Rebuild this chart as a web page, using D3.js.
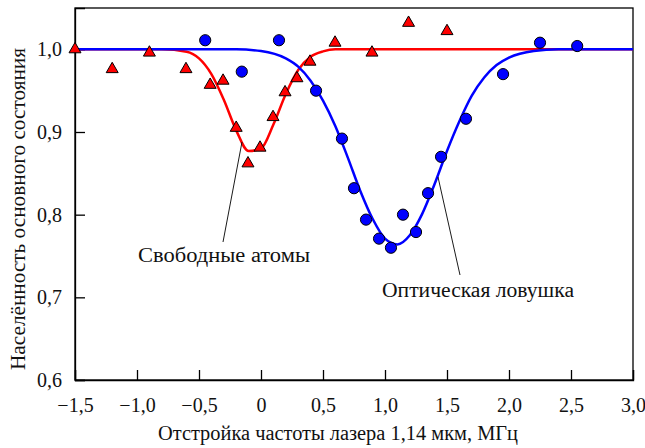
<!DOCTYPE html>
<html><head><meta charset="utf-8">
<script src="https://cdn.jsdelivr.net/npm/d3@7"></script>
<style>body{margin:0;background:#fff}svg{display:block}</style>
</head><body><svg id="c" width="645" height="448"></svg>
<script>
// Data
const freeX = [-1.5,-1.2,-0.9,-0.605,-0.41,-0.306,-0.20,-0.105,-0.008,0.097,0.194,0.29,0.395,0.597,0.895,1.19,1.5];
const freeY = [1.0,0.976,0.996,0.976,0.957,0.962,0.905,0.862,0.881,0.918,0.948,0.965,0.985,1.008,0.996,1.032,1.022];
const trapX = [-0.45,-0.155,0.145,0.444,0.653,0.75,0.847,0.952,1.048,1.145,1.25,1.347,1.452,1.653,1.952,2.25,2.55];
const trapY = [1.011,0.973,1.011,0.950,0.892,0.832,0.794,0.771,0.760,0.800,0.779,0.826,0.870,0.916,0.970,1.008,1.004];
// Fitted curves
const freeFitX = [-1.5,-0.8,-0.6,-0.5,-0.4,-0.3,-0.2,-0.1,0.0,0.1,0.2,0.3,0.4,0.5,0.6,3.0];
const freeFitY = [1.0,1.0,0.997,0.989,0.970,0.939,0.902,0.877,0.880,0.909,0.946,0.975,0.991,0.9975,1.0,1.0];
const trapFitX = [-1.5,-0.2,0.0,0.2,0.3,0.4,0.5,0.6,0.7,0.8,0.9,1.0,1.1,1.2,1.3,1.4,1.5,1.6,1.7,1.8,1.9,2.0,2.2,2.4,3.0];
const trapFitY = [1.0,1.0,0.998,0.989,0.979,0.962,0.938,0.907,0.869,0.829,0.795,0.771,0.764,0.775,0.801,0.837,0.877,0.913,0.944,0.966,0.981,0.990,0.998,1.0,1.0];
const xTicks = [-1.5,-1.0,-0.5,0,0.5,1.0,1.5,2.0,2.5,3.0];
const yTicks = [0.6,0.7,0.8,0.9,1.0];
const xTitle = "Отстройка частоты лазера 1,14 мкм, МГц";
const yTitle = "Населённость основного состояния";
const labelFree = "Свободные атомы";
const labelTrap = "Оптическая ловушка";

const FONT = "'Liberation Serif','DejaVu Serif','Times New Roman',serif";
const svg = d3.select("#c");
const L=75,R=633,T=8,B=380;
const x = d3.scaleLinear().domain([-1.5,3.0]).range([L,R]);
const y = d3.scaleLinear().domain([0.6,1.05]).range([B,T]);
const fmt = v => {
  if (v===0) return "0";
  const s = Math.abs(v).toFixed(1).replace(".",",");
  return (v<0?"\u2212":"")+s;
};

// frame
svg.append("rect").attr("x",L).attr("y",T).attr("width",R-L).attr("height",B-T)
  .attr("fill","none").attr("stroke","#000").attr("stroke-width",1.3);

// axes (ticks inward)
const xa = svg.append("g").attr("transform",`translate(0,${B})`)
  .call(d3.axisBottom(x).tickValues(xTicks).tickSize(-10).tickPadding(18).tickFormat(fmt));
const ya = svg.append("g").attr("transform",`translate(${L},0)`)
  .call(d3.axisLeft(y).tickValues(yTicks).tickSize(-10).tickPadding(13).tickFormat(fmt));
[xa,ya].forEach(g=>{
  g.attr("font-family",FONT).attr("font-size",20);
  g.select(".domain").attr("stroke","#000").attr("stroke-width",1.3);
  g.selectAll(".tick line").attr("stroke","#000").attr("stroke-width",1.3);
  g.selectAll(".tick text").attr("fill","#111");
});

// curves
const line = d3.line().x(d=>x(d[0])).y(d=>y(d[1])).curve(d3.curveMonotoneX);
svg.append("path").datum(d3.zip(freeFitX,freeFitY)).attr("d",line)
  .attr("fill","none").attr("stroke","#ff0000").attr("stroke-width",2.5);
svg.append("path").datum(d3.zip(trapFitX,trapFitY)).attr("d",line)
  .attr("fill","none").attr("stroke","#0000ff").attr("stroke-width",2.5);

// markers
svg.append("g").selectAll("path").data(d3.zip(freeX,freeY)).join("path")
  .attr("d",d3.symbol(d3.symbolTriangle,62))
  .attr("transform",d=>`translate(${x(d[0])},${y(d[1])})`)
  .attr("fill","#ff0000").attr("stroke","#000").attr("stroke-width",1);
svg.append("g").selectAll("circle").data(d3.zip(trapX,trapY)).join("circle")
  .attr("cx",d=>x(d[0])).attr("cy",d=>y(d[1])).attr("r",5.6)
  .attr("fill","#0000ff").attr("stroke","#000").attr("stroke-width",1);

// annotations
svg.append("line").attr("x1",242).attr("y1",142).attr("x2",223).attr("y2",242)
  .attr("stroke","#000").attr("stroke-width",0.9);
svg.append("line").attr("x1",438).attr("y1",177).attr("x2",460).attr("y2",275)
  .attr("stroke","#000").attr("stroke-width",0.9);
const t = svg.append("g").attr("font-family",FONT).attr("font-size",20).attr("fill","#111");
t.append("text").attr("x",138).attr("y",262).attr("textLength",172).attr("lengthAdjust","spacingAndGlyphs").text(labelFree);
t.append("text").attr("x",382).attr("y",297).attr("textLength",192).attr("lengthAdjust","spacingAndGlyphs").text(labelTrap);

// titles
t.append("text").attr("x",158).attr("y",440).attr("textLength",360).attr("lengthAdjust","spacingAndGlyphs").text(xTitle);
t.append("text").attr("transform","translate(25,370) rotate(-90)").attr("textLength",322).attr("lengthAdjust","spacingAndGlyphs").text(yTitle);
</script></body></html>
